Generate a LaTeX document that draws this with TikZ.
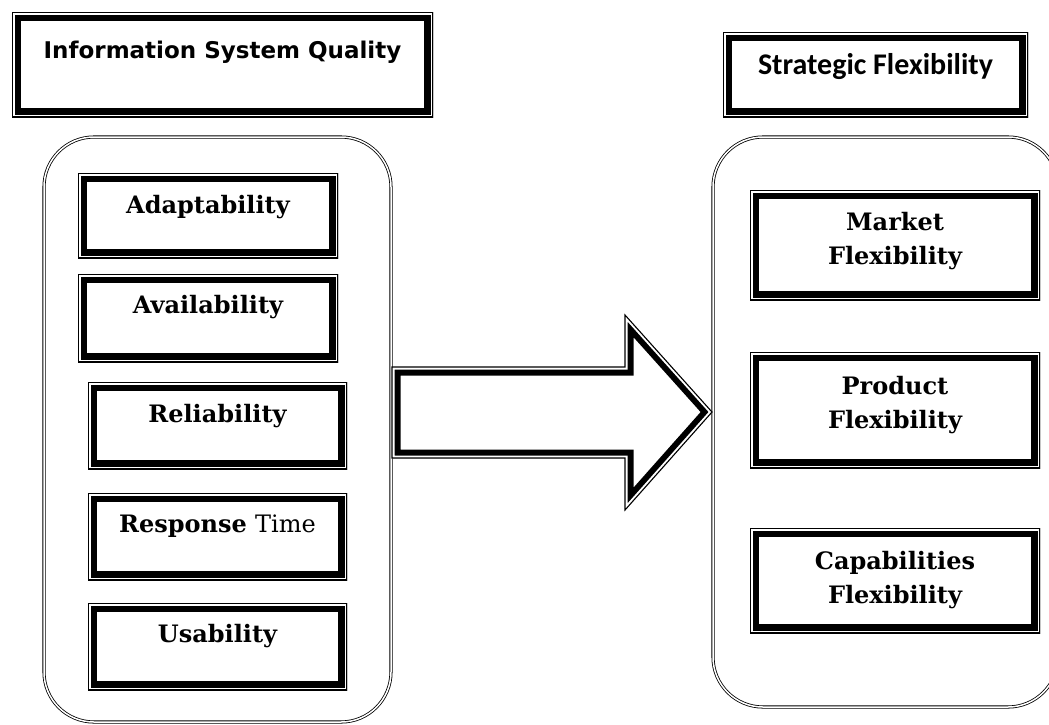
\documentclass[tikz,border=0pt]{standalone}
\usepackage{fontspec}
\setmainfont{DejaVu Serif}
\newfontfamily\titlesansA{DejaVu Sans}
\newfontfamily\titlesansB{Carlito}
\begin{document}
\begin{tikzpicture}[x=1pt,y=-1pt,
  frame/.style={rectangle, inner sep=0pt,
    path picture={
      \draw[line width=18pt] (path picture bounding box.south west) rectangle (path picture bounding box.north east);
      \draw[white, line width=5pt] (path picture bounding box.south west) rectangle (path picture bounding box.north east);
      \draw[line width=2.3pt] (path picture bounding box.south west) rectangle (path picture bounding box.north east);
    }},
  container/.style={rectangle, draw, rounded corners=50pt, double=white, double distance=1.5pt, line width=0.8pt, inner sep=0pt},
  lbl/.style={font=\bfseries\fontsize{24}{34}\selectfont, anchor=base, inner sep=0pt, align=center},
  ttlA/.style={font=\titlesansA\bfseries\fontsize{23}{26}\selectfont, anchor=base, inner sep=0pt},
  ttlB/.style={font=\titlesansB\bfseries\fontsize{30}{32}\selectfont, anchor=base, inner sep=0pt}
]
\useasboundingbox (0,0) rectangle (1049,724);
\clip (0,0) rectangle (1049,724);
\fill[white] (0,0) rectangle (1049,724);

% containers
\node[container, minimum width=347pt, minimum height=585pt] (lc) at (217.5,429.5) {};
\node[container, minimum width=345pt, minimum height=570pt] (rc) at (885.5,422) {};

% title boxes
\node[frame, minimum width=421pt, minimum height=105pt] (isq) at (222.5,64.5) {};
\node[frame, minimum width=305pt, minimum height=85pt] (sf) at (875.5,74.5) {};
\node[ttlA] (tisq) at (222.5,58) {Information System Quality};
\node[ttlB] (tsf) at (875.5,74) {Strategic Flexibility};

% left boxes
\node[frame, minimum width=260pt, minimum height=85pt] (adapt) at (208,215.5) {};
\node[frame, minimum width=260pt, minimum height=88pt] (avail) at (208,318) {};
\node[frame, minimum width=259pt, minimum height=87pt] (rel) at (217.5,425.5) {};
\node[frame, minimum width=259pt, minimum height=87pt] (resp) at (217.5,536.5) {};
\node[frame, minimum width=259pt, minimum height=87pt] (usab) at (217.5,646.5) {};
\node[lbl] (tadapt) at (208,213) {Adaptability};
\node[lbl] (tavail) at (208,313) {Availability};
\node[lbl] (trel) at (217.5,422) {Reliability};
\node[lbl] (tresp) at (217.5,532) {Response \mdseries Time};
\node[lbl] (tusab) at (217.5,642) {Usability};

% right boxes
\node[frame, minimum width=290pt, minimum height=110pt] (market) at (895,245) {};
\node[frame, minimum width=290pt, minimum height=116pt] (product) at (895,410) {};
\node[frame, minimum width=290pt, minimum height=105pt] (capab) at (895,580.5) {};
\node[lbl] (tmarket) at (895,264) {Market\\Flexibility};
\node[lbl] (tproduct) at (895,428) {Product\\Flexibility};
\node[lbl] (tcapab) at (895,603) {Capabilities\\Flexibility};

% block arrow
\coordinate (a1) at (392,367);
\coordinate (a2) at (625,367);
\coordinate (a3) at (625,315);
\coordinate (a4) at (712,412);
\coordinate (a5) at (625,510);
\coordinate (a6) at (625,458);
\coordinate (a7) at (392,458);
\begin{scope}
  \clip (a1) -- (a2) -- (a3) -- (a4) -- (a5) -- (a6) -- (a7) -- cycle;
  \fill[white] (a1) -- (a2) -- (a3) -- (a4) -- (a5) -- (a6) -- (a7) -- cycle;
  \draw[line width=17pt, line join=miter] (a1) -- (a2) -- (a3) -- (a4) -- (a5) -- (a6) -- (a7) -- cycle;
  \draw[white, line width=5pt, line join=miter] (a1) -- (a2) -- (a3) -- (a4) -- (a5) -- (a6) -- (a7) -- cycle;
\end{scope}
\draw[line width=1.1pt, line join=miter] (a1) -- (a2) -- (a3) -- (a4) -- (a5) -- (a6) -- (a7) -- cycle;
\end{tikzpicture}
\end{document}
